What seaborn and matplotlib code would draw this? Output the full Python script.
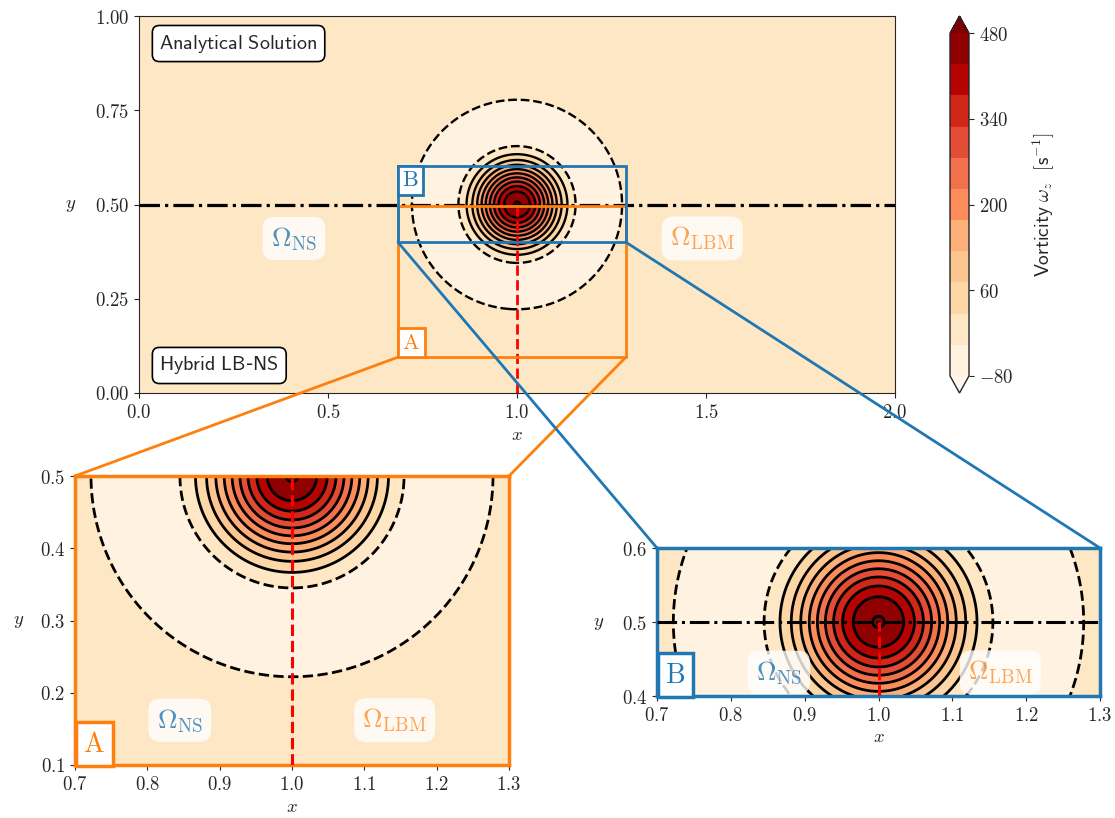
import numpy as np
import matplotlib
matplotlib.use("Agg")
import matplotlib.pyplot as plt
import seaborn as sns
from matplotlib.patches import Rectangle, ConnectionPatch
from matplotlib.ticker import FuncFormatter, FixedLocator

# ---------------- data ----------------
# Taylor vortex parameters (analytical solution)
VORTEX_CENTER_X = 1.0
VORTEX_CENTER_Y = 0.5
VORTEX_PEAK = 483.0        # s^-1
VORTEX_CORE = 0.1
DOMAIN_X = (0.0, 2.0)
DOMAIN_Y = (0.0, 1.0)
LEVEL_MIN, LEVEL_MAX, N_LEVELS = -80.0, 480.0, 12
CBAR_TICKS = [-80, 60, 200, 340, 480]
MAIN_XTICKS = [0.0, 0.5, 1.0, 1.5, 2.0]
MAIN_YTICKS = [0.0, 0.25, 0.50, 0.75, 1.00]
INSET_XTICKS = [0.7, 0.8, 0.9, 1.0, 1.1, 1.2, 1.3]
A_YTICKS = [0.1, 0.2, 0.3, 0.4, 0.5]
B_YTICKS = [0.4, 0.5, 0.6]
ZOOM_A = (0.7, 1.3, 0.1, 0.5)
ZOOM_B = (0.7, 1.3, 0.4, 0.6)
RECT_A = (0.685, 1.288, 0.095, 0.497)
RECT_B = (0.685, 1.288, 0.400, 0.602)
INTERFACE_Y = 0.5
SYMMETRY_X = 1.0

# ---------------- style ----------------
sns.set_style("ticks")
plt.rcParams["mathtext.fontset"] = "cm"
plt.rcParams["font.family"] = ["DejaVu Sans"]
plt.rcParams["contour.negative_linestyle"] = "dashed"

pal = sns.color_palette("tab10")
BLUE = pal[0]
ORANGE = pal[1]
cmap = sns.color_palette("OrRd", as_cmap=True)
levels = np.linspace(LEVEL_MIN, LEVEL_MAX, N_LEVELS)

TICK_FS = 13.5
OMEGA_FS = 19.5


def vorticity(x0, x1, y0, y1, n=600):
    x = np.linspace(x0, x1, n)
    y = np.linspace(y0, y1, int(n * (y1 - y0) / (x1 - x0)) + 2)
    X, Y = np.meshgrid(x, y)
    s = ((X - VORTEX_CENTER_X) ** 2 + (Y - VORTEX_CENTER_Y) ** 2) / (2 * VORTEX_CORE ** 2)
    W = VORTEX_PEAK * (1.0 - s) * np.exp(-s)
    return X, Y, W


def fmt(dec):
    return FuncFormatter(lambda v, p: "$%.*f$" % (dec, v))


W_PX, H_PX = 1115, 818
fig = plt.figure(figsize=(W_PX / 100, H_PX / 100), dpi=100)


def px_rect(l, t, r, b):
    return [l / W_PX, 1 - b / H_PX, (r - l) / W_PX, (b - t) / H_PX]


ax = fig.add_axes(px_rect(139, 16, 895, 393))
cax = fig.add_axes(px_rect(950, 16, 969, 393))
axA = fig.add_axes(px_rect(75, 476, 509, 765))
axB = fig.add_axes(px_rect(657, 548, 1100, 696))

omega_ns = r"$\Omega_{\rm NS}$"
omega_lbm = r"$\Omega_{\rm LBM}$"
ns_col = (*BLUE, 0.8)
lbm_col = (*ORANGE, 0.7)
obox = dict(boxstyle="round,pad=0.3,rounding_size=0.45", fc=(1, 1, 1, 0.8), ec="none")


def draw_field(a, ext, lw, n):
    X, Y, W = vorticity(*ext, n=n)
    cf = a.contourf(X, Y, W, levels=levels, cmap=cmap, extend="both")
    a.contour(X, Y, W, levels=levels, colors="k", linewidths=lw)
    a.set_xlim(ext[0], ext[1])
    a.set_ylim(ext[2], ext[3])
    return cf


# ---------------- main axes ----------------
cf = draw_field(ax, (*DOMAIN_X, *DOMAIN_Y), 1.7, 1200)
ax.plot([DOMAIN_X[0], DOMAIN_X[1]], [INTERFACE_Y, INTERFACE_Y], color="k", ls="-.", lw=2.3, zorder=4)
ax.plot([SYMMETRY_X, SYMMETRY_X], [DOMAIN_Y[0], INTERFACE_Y], color="red", ls="--", lw=2, zorder=4)
ax.xaxis.set_major_locator(FixedLocator(MAIN_XTICKS))
ax.yaxis.set_major_locator(FixedLocator(MAIN_YTICKS))
ax.xaxis.set_major_formatter(fmt(1))
ax.yaxis.set_major_formatter(fmt(2))
ax.tick_params(labelsize=TICK_FS)
ax.set_xlabel("$x$", fontsize=TICK_FS, labelpad=2)
ax.set_ylabel("$y$", fontsize=TICK_FS, rotation=0, labelpad=17, va="center")

for (x0, x1, y0, y1), col in [(RECT_A, ORANGE), (RECT_B, BLUE)]:
    ax.add_patch(Rectangle((x0, y0), x1 - x0, y1 - y0, fill=False, ec=col, lw=2, zorder=6))

ax.annotate(r"$\mathrm{A}$", xy=(RECT_A[0], RECT_A[2]), xycoords="data", xytext=(3.2, 3.2),
            textcoords="offset points", ha="left", va="bottom", fontsize=16, color=ORANGE, zorder=7,
            bbox=dict(boxstyle="square,pad=0.2", fc="white", ec=ORANGE, lw=2))
ax.annotate(r"$\mathrm{B}$", xy=(RECT_B[0], RECT_B[3]), xycoords="data", xytext=(3.2, -3.2),
            textcoords="offset points", ha="left", va="top", fontsize=16, color=BLUE, zorder=7,
            bbox=dict(boxstyle="square,pad=0.2", fc="white", ec=BLUE, lw=2))

ax.text(0.41, 0.41, omega_ns, fontsize=OMEGA_FS, color=ns_col, ha="center", va="center", bbox=obox, zorder=5)
ax.text(1.49, 0.41, omega_lbm, fontsize=OMEGA_FS, color=lbm_col, ha="center", va="center", bbox=obox, zorder=5)

lbox = dict(boxstyle="round,pad=0.35", fc="white", ec="k", lw=1.2)
ax.text(0.027, 0.927, r"$\mathsf{Analytical\ Solution}$", transform=ax.transAxes, fontsize=14.5,
        ha="left", va="center", bbox=lbox, zorder=8)
ax.text(0.027, 0.073, r"$\mathsf{Hybrid\ LB}$-$\mathsf{NS}$", transform=ax.transAxes, fontsize=14.5,
        ha="left", va="center", bbox=lbox, zorder=8)

# ---------------- colorbar ----------------
cb = fig.colorbar(cf, cax=cax, extend="both")
cb.set_ticks(CBAR_TICKS)
cb.ax.yaxis.set_major_formatter(fmt(0))
cb.ax.tick_params(labelsize=TICK_FS)
cb.outline.set_linewidth(1.0)
cb.set_label(r"$\mathsf{Vorticity}\ \omega_z\ \ [\mathsf{s}^{-1}]$", fontsize=14, labelpad=13)

# ---------------- inset A ----------------
draw_field(axA, ZOOM_A, 2.0, 900)
axA.plot([SYMMETRY_X, SYMMETRY_X], [ZOOM_A[2], INTERFACE_Y], color="red", ls="--", lw=2.2, zorder=4)
axA.xaxis.set_major_locator(FixedLocator(INSET_XTICKS))
axA.yaxis.set_major_locator(FixedLocator(A_YTICKS))
axA.xaxis.set_major_formatter(fmt(1))
axA.yaxis.set_major_formatter(fmt(1))
axA.tick_params(labelsize=TICK_FS)
axA.set_xlabel("$x$", fontsize=TICK_FS, labelpad=2)
axA.set_ylabel("$y$", fontsize=TICK_FS, rotation=0, labelpad=15, va="center")
for s in axA.spines.values():
    s.set_color(ORANGE)
    s.set_linewidth(2.5)
axA.text(0.845, 0.162, omega_ns, fontsize=OMEGA_FS, color=ns_col, ha="center", va="center", bbox=obox, zorder=5)
axA.text(1.142, 0.162, omega_lbm, fontsize=OMEGA_FS, color=lbm_col, ha="center", va="center", bbox=obox, zorder=5)
axA.annotate(r"$\mathrm{A}$", xy=(0, 0), xycoords="axes fraction", xytext=(6, 5),
             textcoords="offset points", ha="left", va="bottom", fontsize=20, color=ORANGE, zorder=7,
             bbox=dict(boxstyle="square,pad=0.28", fc="white", ec=ORANGE, lw=2.5))

# ---------------- inset B ----------------
draw_field(axB, ZOOM_B, 2.0, 900)
axB.plot([ZOOM_B[0], ZOOM_B[1]], [INTERFACE_Y, INTERFACE_Y], color="k", ls="-.", lw=2.2, zorder=4)
axB.plot([SYMMETRY_X, SYMMETRY_X], [ZOOM_B[2], INTERFACE_Y], color="red", ls="--", lw=2.2, zorder=4)
axB.xaxis.set_major_locator(FixedLocator(INSET_XTICKS))
axB.yaxis.set_major_locator(FixedLocator(B_YTICKS))
axB.xaxis.set_major_formatter(fmt(1))
axB.yaxis.set_major_formatter(fmt(1))
axB.tick_params(labelsize=TICK_FS)
axB.set_xlabel("$x$", fontsize=TICK_FS, labelpad=2)
axB.set_ylabel("$y$", fontsize=TICK_FS, rotation=0, labelpad=17, va="center")
for s in axB.spines.values():
    s.set_color(BLUE)
    s.set_linewidth(2.5)
axB.text(0.865, 0.432, omega_ns, fontsize=OMEGA_FS, color=ns_col, ha="center", va="center", bbox=obox, zorder=5)
axB.text(1.165, 0.432, omega_lbm, fontsize=OMEGA_FS, color=lbm_col, ha="center", va="center", bbox=obox, zorder=5)
axB.annotate(r"$\mathrm{B}$", xy=(0, 0), xycoords="axes fraction", xytext=(6, 5),
             textcoords="offset points", ha="left", va="bottom", fontsize=20, color=BLUE, zorder=7,
             bbox=dict(boxstyle="square,pad=0.28", fc="white", ec=BLUE, lw=2.5))

# ---------------- connectors ----------------
conns = [
    ((RECT_A[0], RECT_A[2]), axA, (0, 1), ORANGE),
    ((RECT_A[1], RECT_A[2]), axA, (1, 1), ORANGE),
    ((RECT_B[0], RECT_B[2]), axB, (0, 1), BLUE),
    ((RECT_B[1], RECT_B[2]), axB, (1, 1), BLUE),
]
for xyA, target, xyB, col in conns:
    cp = ConnectionPatch(xyA=xyA, coordsA=ax.transData, xyB=xyB, coordsB=target.transAxes,
                         color=col, lw=2, zorder=10)
    fig.add_artist(cp)

fig.savefig("out.png", dpi=100)
